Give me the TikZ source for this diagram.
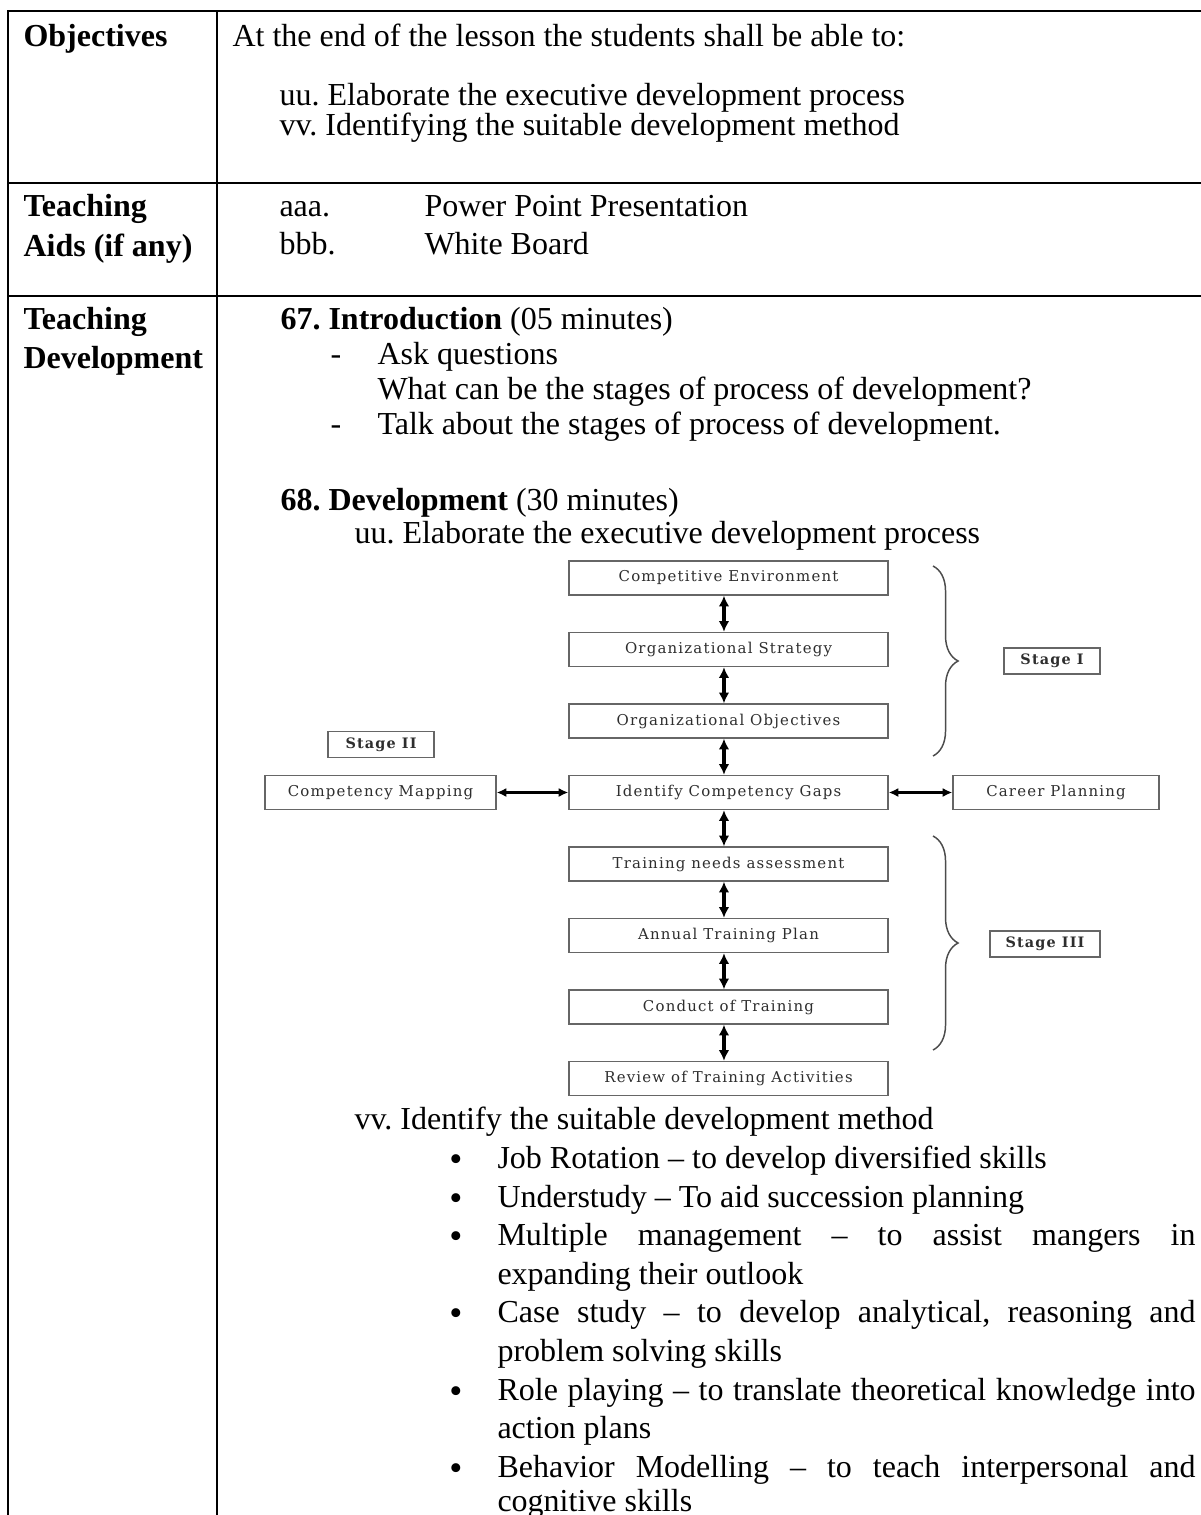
\documentclass[tikz,border=0pt]{standalone}
\usepackage{fontspec}
\setmainfont{Liberation Serif}
\newfontfamily\flowfont[LetterSpace=8]{DejaVu Serif}
\usetikzlibrary{arrows.meta,decorations.pathreplacing}
\frenchspacing

% width of a justified bullet line
\newlength\jw
\setlength\jw{261.75pt}
\newcommand\jline[1]{\makebox[\jw][s]{#1}}

\begin{document}
\begin{tikzpicture}[x=0.375pt,y=-0.375pt,
  txt/.style={anchor=base west,inner sep=0pt,font=\fontsize{12pt}{14pt}\selectfont},
  head/.style={anchor=base west,inner sep=0pt,font=\fontsize{12pt}{14pt}\selectfont\bfseries},
  dot/.style={anchor=base,inner sep=0pt,font=\fontsize{14pt}{16pt}\selectfont},
  rule/.style={line width=0.8pt,black,line cap=rect},
  flow/.style={draw=black!60,line width=0.55pt,inner sep=0pt,text=black!82,
    font=\flowfont\fontsize{5.6pt}{6.5pt}\selectfont},
  mainbox/.style={flow,minimum width=119.6pt,minimum height=12.75pt},
  stagebox/.style={flow,minimum height=9.75pt,font=\flowfont\fontsize{5.4pt}{6pt}\selectfont\bfseries},
  varrow/.style={{Latex[length=4pt,width=4pt]}-{Latex[length=4pt,width=4pt]},line width=1.3pt,black},
  harrow/.style={{Latex[length=3.6pt,width=3.4pt]}-{Latex[length=3.6pt,width=3.4pt]},line width=0.9pt,black},
  bracestyle/.style={decorate,decoration={brace,amplitude=9.4pt},draw=black!70,line width=0.55pt}
]
\useasboundingbox[fill=white] (0,0) rectangle (1200,1515);

% table rules
\draw[rule] (1206,11) -- (8,11) -- (8,1522);
\draw[rule] (217,11) -- (217,1522);
\draw[rule] (8,183) -- (1206,183);
\draw[rule] (8,296) -- (1206,296);

% left column headings
\node[head] (hobj) at (23,47) {Objectives};
\node[head] (hta1) at (23,217) {Teaching};
\node[head] (hta2) at (23,256) {Aids (if any)};
\node[head] (htd1) at (23,329) {Teaching};
\node[head] (htd2) at (23,368) {Development};

% objectives
\node[txt] (o0) at (232,47) {At the end of the lesson the students shall be able to:};
\node[txt] (o1) at (279,106) {uu. Elaborate the executive development process};
\node[txt] (o2) at (279,136) {vv. Identifying the suitable development method};

% teaching aids
\node[txt] (a1) at (279,217) {aaa.};
\node[txt] (a1t) at (424,217) {Power Point Presentation};
\node[txt] (a2) at (279,255) {bbb.};
\node[txt] (a2t) at (424,255) {White Board};

% introduction
\node[txt] (i0) at (280,329) {\textbf{67. Introduction} (05 minutes)};
\node[txt] (i1d) at (330,364) {-};
\node[txt] (i1) at (377,364) {Ask questions};
\node[txt] (i2) at (377,399) {What can be the stages of process of development?};
\node[txt] (i3d) at (330,434) {-};
\node[txt] (i3) at (377,434) {Talk about the stages of process of development.};

% development
\node[txt] (d0) at (280,510) {\textbf{68. Development} (30 minutes)};
\node[txt] (d1) at (354,543) {uu. Elaborate the executive development process};

% process flow
\node[mainbox] (ce)  at (728.5,578)    {Competitive Environment};
\node[mainbox] (os)  at (728.5,649.5)  {Organizational Strategy};
\node[mainbox] (oo)  at (728.5,721)    {Organizational Objectives};
\node[mainbox] (icg) at (728.5,792.5)  {Identify Competency Gaps};
\node[mainbox] (tna) at (728.5,864)    {Training needs assessment};
\node[mainbox] (atp) at (728.5,935.5)  {Annual Training Plan};
\node[mainbox] (cot) at (728.5,1007)   {Conduct of Training};
\node[mainbox] (rta) at (728.5,1078.5) {Review of Training Activities};

\node[flow,minimum width=86.6pt,minimum height=12.75pt] (cm) at (380.5,792.5) {Competency Mapping};
\node[flow,minimum width=77.25pt,minimum height=12.75pt] (cp) at (1056,792.5) {Career Planning};

\node[stagebox,minimum width=36pt] (s1) at (1052,661) {Stage I};
\node[stagebox,minimum width=39.75pt] (s2) at (381,744.5) {Stage II};
\node[stagebox,minimum width=41.25pt] (s3) at (1045,944) {Stage III};

\foreach \a/\b in {ce/os,os/oo,oo/icg,icg/tna,tna/atp,atp/cot,cot/rta}
  \draw[varrow] ([xshift=-1.7pt]\a.south) -- ([xshift=-1.7pt]\b.north);
\draw[harrow] (cm.east) -- (icg.west);
\draw[harrow] (icg.east) -- (cp.west);

\draw[bracestyle] (933,566) -- (933,756);
\draw[bracestyle] (933,836) -- (933,1050);

% development methods
\node[txt] (v0) at (354,1129) {vv. Identify the suitable development method};
\foreach \y/\n in {1171/b1,1210/b2,1248/b3,1325/b4,1403/b5,1480/b6}
  \node[dot] (\n) at (456,\y) {•};
\node[txt] (m1) at (497,1168) {Job Rotation – to develop diversified skills};
\node[txt] (m2) at (497,1207) {Understudy – To aid succession planning};
\node[txt] (m3) at (497,1245) {\jline{Multiple management – to assist mangers in}};
\node[txt] (m3b) at (497,1284) {expanding their outlook};
\node[txt] (m4) at (497,1322) {\jline{Case study – to develop analytical, reasoning and}};
\node[txt] (m4b) at (497,1361) {problem solving skills};
\node[txt] (m5) at (497,1400) {\jline{Role playing – to translate theoretical knowledge into}};
\node[txt] (m5b) at (497,1438) {action plans};
\node[txt] (m6) at (497,1477) {\jline{Behavior Modelling – to teach interpersonal and}};
\node[txt] (m6b) at (497,1511) {cognitive skills};
\end{tikzpicture}
\end{document}
